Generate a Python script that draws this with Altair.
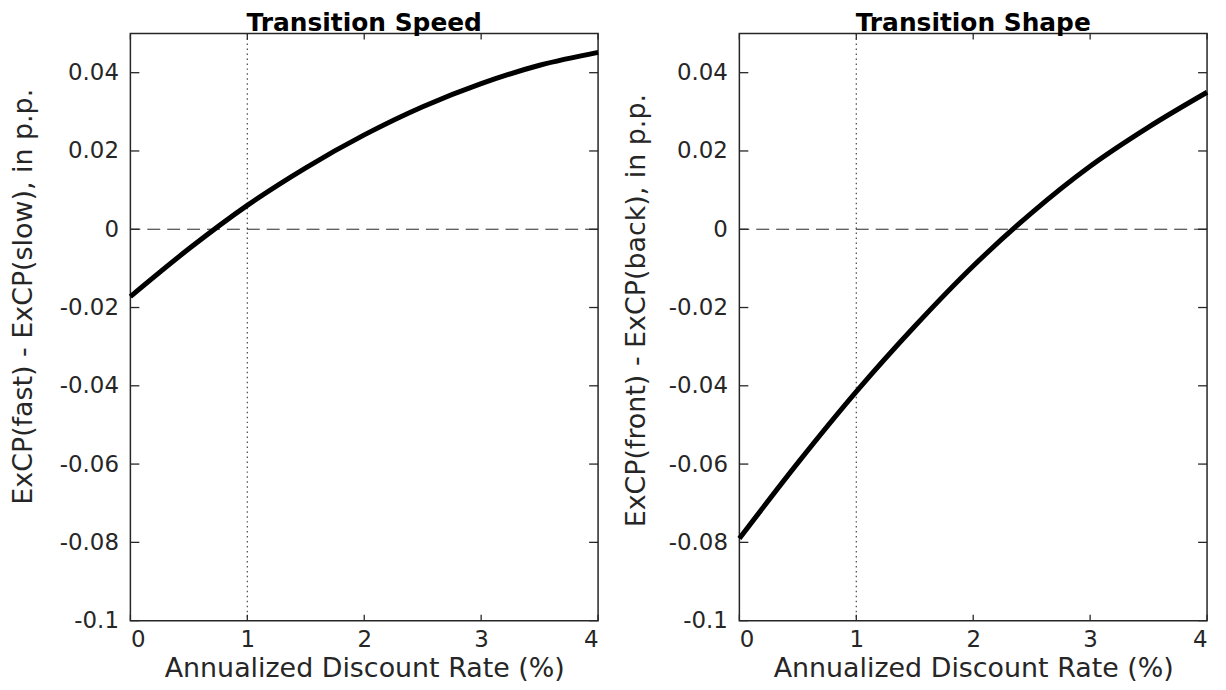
import altair as alt
import pandas as pd

# ---- data ----
rate = [0, 0.5, 1, 1.5, 2, 2.5, 3, 3.5, 4]
speed_diff = [-0.0172, -0.0050, 0.0061, 0.0157, 0.0241, 0.0313, 0.0372, 0.0419, 0.0452]
shape_diff = [-0.0790, -0.0597, -0.0415, -0.0248, -0.0094, 0.0042, 0.0161, 0.0261, 0.0350]

x_ticks = [0, 1, 2, 3, 4]
y_ticks = [-0.1, -0.08, -0.06, -0.04, -0.02, 0, 0.02, 0.04]
ref_rate = [1]
ref_zero = [0]

titles = ["Transition Speed", "Transition Shape"]
y_titles = ["ExCP(fast) - ExCP(slow), in p.p.", "ExCP(front) - ExCP(back), in p.p."]
x_title = "Annualized Discount Rate (%)"

W, H = 470, 590
FONT = "DejaVu Sans"
INK = "#262626"

xscale = alt.Scale(domain=[0, 4], nice=False, zero=False)
yscale = alt.Scale(domain=[-0.1, 0.05], nice=False, zero=False)
label_expr = "datum.value < 0 ? '-' + format(-datum.value, '~g') : format(datum.value, '~g')"


def panel(values, title, ytitle, title_x, title_y):
    df = pd.DataFrame({"r": rate, "v": values})
    xax = alt.Axis(values=x_ticks, ticks=False, domain=False, grid=False, labelPadding=8,
                   labelExpr=label_expr, title=x_title, titlePadding=4)
    yax = alt.Axis(values=y_ticks, ticks=False, domain=False, grid=False, labelPadding=12,
                   labelExpr=label_expr, title=ytitle, titleX=title_x, titleY=title_y,
                   titleFontSize=27)

    zero = alt.Chart(pd.DataFrame({"v": ref_zero})).mark_rule(
        color=INK, strokeWidth=1, strokeDash=[13, 7]).encode(y=alt.Y("v:Q", scale=yscale))
    vline = alt.Chart(pd.DataFrame({"r": ref_rate})).mark_rule(
        color="#444444", strokeWidth=1.2, strokeDash=[1.5, 3.5]).encode(x=alt.X("r:Q", scale=xscale))
    curve = alt.Chart(df).mark_line(color="black", strokeWidth=5, interpolate="monotone").encode(
        x=alt.X("r:Q", scale=xscale, axis=xax),
        y=alt.Y("v:Q", scale=yscale, axis=yax),
    )
    ty = pd.DataFrame({"v": y_ticks})
    tx = pd.DataFrame({"r": x_ticks})
    yt_left = alt.Chart(ty).mark_rule(color=INK, strokeWidth=1.3).encode(
        y=alt.Y("v:Q", scale=yscale), x=alt.value(0), x2=alt.value(9))
    yt_right = alt.Chart(ty).mark_rule(color=INK, strokeWidth=1.3).encode(
        y=alt.Y("v:Q", scale=yscale), x=alt.value(W - 9), x2=alt.value(W))
    xt_bot = alt.Chart(tx).mark_rule(color=INK, strokeWidth=1.3).encode(
        x=alt.X("r:Q", scale=xscale), y=alt.value(H - 6), y2=alt.value(H))
    xt_top = alt.Chart(tx).mark_rule(color=INK, strokeWidth=1.3).encode(
        x=alt.X("r:Q", scale=xscale), y=alt.value(0), y2=alt.value(6))

    return alt.layer(zero, vline, yt_left, yt_right, xt_bot, xt_top, curve).properties(
        width=W, height=H,
        title=alt.TitleParams(title, font=FONT, fontSize=25, fontWeight="bold", color="black",
                              anchor="middle", offset=-3),
    )


chart = alt.hconcat(
    panel(speed_diff, titles[0], y_titles[0], -93, 264),
    panel(shape_diff, titles[1], y_titles[1], -89, 278),
    spacing=142, bounds="flush",
).properties(
    padding={"left": 1, "top": 0, "right": 0, "bottom": 0},
    background="white",
).configure_view(
    stroke=INK, strokeWidth=1.5,
).configure_axis(
    labelFont=FONT, labelFontSize=23, labelColor=INK,
    titleFont=FONT, titleFontSize=27, titleFontWeight="normal", titleColor=INK,
)

chart.save("out.html", embed_options={"renderer": "svg", "actions": False})
